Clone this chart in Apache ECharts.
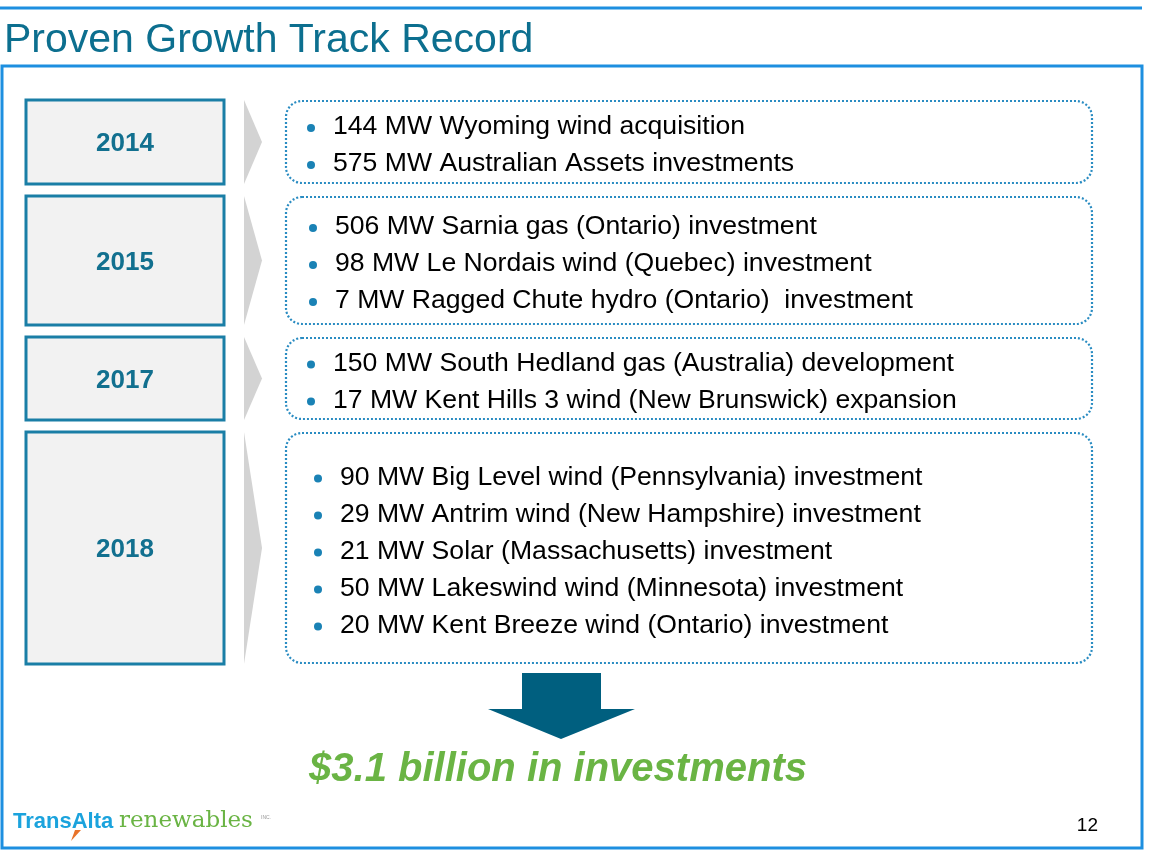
<!DOCTYPE html>
<html>
<head>
<meta charset="utf-8">
<title>Proven Growth Track Record</title>
<script src="https://cdn.jsdelivr.net/npm/echarts@6/dist/echarts.min.js"></script>
<style>
  html, body { margin: 0; padding: 0; background: #fff; }
  #main { width: 1152px; height: 855px; }
</style>
</head>
<body>
<div id="main"></div>
<script>
// slide content
const title = "Proven Growth Track Record";
const years = ["2014", "2015", "2017", "2018"];
const items2014 = [
  "144 MW Wyoming wind acquisition",
  "575 MW Australian Assets investments"
];
const items2015 = [
  "506 MW Sarnia gas (Ontario) investment",
  "98 MW Le Nordais wind (Quebec) investment",
  "7 MW Ragged Chute hydro (Ontario)  investment"
];
const items2017 = [
  "150 MW South Hedland gas (Australia) development",
  "17 MW Kent Hills 3 wind (New Brunswick) expansion"
];
const items2018 = [
  "90 MW Big Level wind (Pennsylvania) investment",
  "29 MW Antrim wind (New Hampshire) investment",
  "21 MW Solar (Massachusetts) investment",
  "50 MW Lakeswind wind (Minnesota) investment",
  "20 MW Kent Breeze wind (Ontario) investment"
];
const itemsByYear = [items2014, items2015, items2017, items2018];
const totalText = "$3.1 billion in investments";
const pageNumber = "12";

// layout of the rows (pixels)
const rowTop = [100, 196, 337, 432];
const rowBottom = [184, 325, 420, 664];
const textX = [333, 335, 333, 340];
const lineGap = 37;

const TEAL = "#12708f";
const FRAME = "#1d8fe0";
const DOT = "#2a8cc2";

let elements = [];

// top rule + title + frame
elements.push({
  type: "line",
  shape: { x1: 0, y1: 8, x2: 1142, y2: 8 },
  style: { stroke: FRAME, lineWidth: 3 }
});
elements.push({
  type: "text",
  x: 4, y: 41,
  style: {
    text: title, fill: "#0c6f8f",
    font: "41px 'Liberation Sans', Arial, sans-serif",
    textVerticalAlign: "middle"
  }
});
elements.push({
  type: "rect",
  shape: { x: 2, y: 66, width: 1140, height: 782 },
  style: { fill: "none", stroke: FRAME, lineWidth: 3 }
});

// rows
years.forEach(function (yr, i) {
  let top = rowTop[i], bot = rowBottom[i];
  let mid = (top + bot) / 2;

  // year box
  elements.push({
    type: "rect",
    shape: { x: 26, y: top, width: 198, height: bot - top },
    style: { fill: "#f2f2f2", stroke: "#1a7ea6", lineWidth: 3 }
  });
  elements.push({
    type: "text",
    x: 125, y: mid + 2,
    style: {
      text: yr, fill: TEAL,
      font: "bold 26px 'Liberation Sans', Arial, sans-serif",
      textAlign: "center", textVerticalAlign: "middle"
    }
  });

  // gray chevron
  elements.push({
    type: "polygon",
    shape: { points: [[244, top], [262, mid], [244, bot]] },
    style: { fill: "#d3d3d3" }
  });

  // dotted rounded box
  elements.push({
    type: "rect",
    shape: { x: 286, y: top + 1, width: 806, height: bot - top - 2, r: 16 },
    style: { fill: "none", stroke: DOT, lineWidth: 2.2, lineDash: [2, 2] }
  });

  // bullets
  let list = itemsByYear[i];
  let start = mid + 3.5 - (list.length - 1) * lineGap / 2;
  list.forEach(function (txt, k) {
    let y = start + k * lineGap;
    elements.push({
      type: "circle",
      shape: { cx: textX[i] - 22, cy: y + 1, r: 4 },
      style: { fill: "#1a82b5" }
    });
    elements.push({
      type: "text",
      x: textX[i], y: y,
      style: {
        text: txt, fill: "#000",
        font: "26.6px 'Liberation Sans', Arial, sans-serif",
        textVerticalAlign: "middle"
      }
    });
  });
});

// down arrow
elements.push({
  type: "polygon",
  shape: {
    points: [[522, 673], [601, 673], [601, 709], [635, 709], [561, 739], [488, 709], [522, 709]]
  },
  style: { fill: "#005f7f" }
});

// total
elements.push({
  type: "text",
  x: 558, y: 770,
  style: {
    text: totalText, fill: "#6ab444",
    font: "italic bold 40px 'Liberation Sans', Arial, sans-serif",
    textAlign: "center", textVerticalAlign: "middle"
  }
});

// logo
elements.push({
  type: "text",
  x: 13, y: 822,
  style: {
    text: "TransAlta", fill: "#1ba3dd",
    font: "bold 22px 'Liberation Sans', Arial, sans-serif",
    textVerticalAlign: "middle"
  }
});
elements.push({
  type: "polygon",
  shape: { points: [[75, 830], [81, 830], [71, 841]] },
  style: { fill: "#e8732a" }
});
elements.push({
  type: "text",
  x: 119, y: 821,
  style: {
    text: "renewables", fill: "#6ab444",
    font: "23px 'DejaVu Serif', 'Liberation Serif', serif",
    textVerticalAlign: "middle"
  }
});
elements.push({
  type: "text",
  x: 261, y: 818,
  style: {
    text: "INC.", fill: "#999",
    font: "5px 'Liberation Sans', Arial, sans-serif",
    textVerticalAlign: "middle"
  }
});

// page number
elements.push({
  type: "text",
  x: 1098, y: 826,
  style: {
    text: pageNumber, fill: "#000",
    font: "19px 'Liberation Sans', Arial, sans-serif",
    textAlign: "right", textVerticalAlign: "middle"
  }
});

let chart = echarts.init(document.getElementById("main"));
chart.setOption({
  backgroundColor: "#fff",
  animation: false,
  graphic: { elements: elements }
});
</script>
</body>
</html>
